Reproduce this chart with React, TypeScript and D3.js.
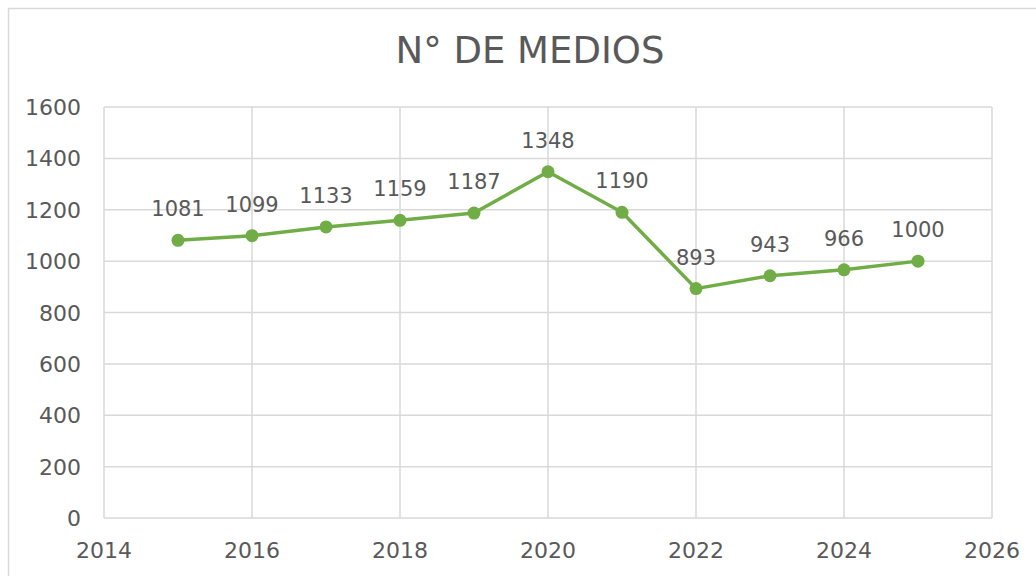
import { useEffect, useRef } from "react";
import * as d3 from "d3";

// ─── Data ────────────────────────────────────────────────────────────────────
const years = [2015, 2016, 2017, 2018, 2019, 2020, 2021, 2022, 2023, 2024, 2025];
const medios = [1081, 1099, 1133, 1159, 1187, 1348, 1190, 893, 943, 966, 1000];
const xTicks = [2014, 2016, 2018, 2020, 2022, 2024, 2026];
const yTicks = [0, 200, 400, 600, 800, 1000, 1200, 1400, 1600];
const title = "N° DE MEDIOS";

const TEXT = "#595959";
const GRID = "#d9d9d9";
const GREEN = "#70ad47";
const FONT = "'DejaVu Sans', sans-serif";

export default function App() {
  const svgRef = useRef<SVGSVGElement>(null);

  useEffect(() => {
    if (!svgRef.current) return;

    const width = 1036;
    const height = 576;
    const plot = { left: 104, top: 107, right: 992, bottom: 518 };

    const svg = d3.select(svgRef.current);
    svg.selectAll("*").remove();

    // ── Outer chart frame (runs off the window on right/bottom) ────────────
    svg
      .append("rect")
      .attr("x", 8.5)
      .attr("y", 8.5)
      .attr("width", width + 40)
      .attr("height", height + 40)
      .attr("fill", "#fff")
      .attr("stroke", GRID)
      .attr("stroke-width", 1.5);

    // ── Title ──────────────────────────────────────────────────────────────
    svg
      .append("text")
      .attr("x", 530)
      .attr("y", 63)
      .attr("text-anchor", "middle")
      .attr("fill", TEXT)
      .attr("font-family", FONT)
      .attr("font-size", 37)
      .text(title);

    // ── Scales ─────────────────────────────────────────────────────────────
    const xScale = d3.scaleLinear().domain([2014, 2026]).range([plot.left, plot.right]);
    const yScale = d3.scaleLinear().domain([0, 1600]).range([plot.bottom, plot.top]);

    const g = svg.append("g");

    // ── Grid lines ─────────────────────────────────────────────────────────
    g.selectAll(".hgrid")
      .data(yTicks)
      .enter()
      .append("line")
      .attr("x1", plot.left)
      .attr("x2", plot.right)
      .attr("y1", (d) => yScale(d))
      .attr("y2", (d) => yScale(d))
      .attr("stroke", GRID)
      .attr("stroke-width", 1.5);

    g.selectAll(".vgrid")
      .data(xTicks)
      .enter()
      .append("line")
      .attr("x1", (d) => xScale(d))
      .attr("x2", (d) => xScale(d))
      .attr("y1", plot.top)
      .attr("y2", plot.bottom)
      .attr("stroke", GRID)
      .attr("stroke-width", 1.5);

    // ── Tick labels ────────────────────────────────────────────────────────
    g.selectAll(".ylab")
      .data(yTicks)
      .enter()
      .append("text")
      .attr("x", 81)
      .attr("y", (d) => yScale(d) + 8)
      .attr("text-anchor", "end")
      .attr("fill", TEXT)
      .attr("font-family", FONT)
      .attr("font-size", 22)
      .text((d) => d);

    g.selectAll(".xlab")
      .data(xTicks)
      .enter()
      .append("text")
      .attr("x", (d) => xScale(d))
      .attr("y", 558)
      .attr("text-anchor", "middle")
      .attr("fill", TEXT)
      .attr("font-family", FONT)
      .attr("font-size", 22)
      .text((d) => d);

    // ── Line + markers ─────────────────────────────────────────────────────
    const pts = years.map((y, i) => ({ x: y, y: medios[i] }));
    const line = d3
      .line<{ x: number; y: number }>()
      .x((d) => xScale(d.x))
      .y((d) => yScale(d.y));

    g.append("path")
      .datum(pts)
      .attr("d", line)
      .attr("fill", "none")
      .attr("stroke", GREEN)
      .attr("stroke-width", 3.5)
      .attr("stroke-linejoin", "round");

    g.selectAll(".dot")
      .data(pts)
      .enter()
      .append("circle")
      .attr("cx", (d) => xScale(d.x))
      .attr("cy", (d) => yScale(d.y))
      .attr("r", 6.5)
      .attr("fill", GREEN);

    // ── Data labels (above each point) ─────────────────────────────────────
    g.selectAll(".dlab")
      .data(pts)
      .enter()
      .append("text")
      .attr("x", (d) => xScale(d.x))
      .attr("y", (d) => yScale(d.y) - 24)
      .attr("text-anchor", "middle")
      .attr("fill", TEXT)
      .attr("font-family", FONT)
      .attr("font-size", 21)
      .text((d) => d.y);
  }, []);

  return (
    <svg
      ref={svgRef}
      width={1036}
      height={576}
      viewBox="0 0 1036 576"
      style={{ position: "absolute", left: 0, top: 0, display: "block" }}
    />
  );
}
